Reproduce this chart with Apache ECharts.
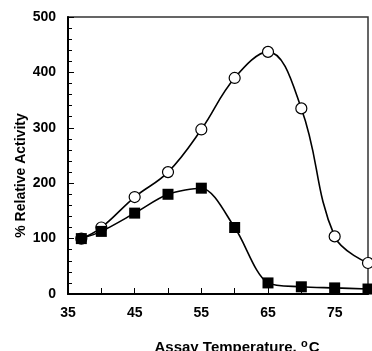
<!DOCTYPE html>
<html>
<head>
<meta charset="utf-8">
<script src="https://cdn.jsdelivr.net/npm/echarts@6/dist/echarts.min.js"></script>
<style>
  html, body { margin: 0; padding: 0; background: #fff; }
  #chart { width: 372px; height: 351px; }
</style>
</head>
<body>
<div id="chart"></div>
<script>
// assay temperature (°C)
const temps = [37, 40, 45, 50, 55, 60, 65, 70, 75, 80]
// open circles
const circleActivity = [100, 120, 175, 220, 297, 390, 437, 335, 104, 56]
// filled squares
const squareActivity = [100, 113, 146, 180, 191, 120, 20, 13, 11, 9]

const xTicks = [35, 45, 55, 65, 75]
const yTicks = [0, 100, 200, 300, 400, 500]

const font = "'Liberation Sans', Arial, sans-serif"

const chart = echarts.init(document.getElementById('chart'), null, { renderer: 'canvas' })

chart.setOption({
  animation: false,
  grid: {
    left: 68,
    right: 4,
    top: 17,
    bottom: 57,
    containLabel: false,
    outerBoundsMode: 'none',
    show: true,
    borderColor: '#333',
    borderWidth: 1.5,
  },
  xAxis: {
    type: 'value',
    min: 35,
    max: 80,
    interval: 10,
    name: '{t|Assay Temperature, }{s|o}{t|C}',
    nameLocation: 'middle',
    nameGap: 44,
    nameMoveOverlap: false,
    nameTextStyle: {
      padding: [0, 0, 0, 38],
      rich: {
        t: { fontFamily: font, fontWeight: 'bold', fontSize: 15, color: '#000', verticalAlign: 'bottom' },
        s: { fontFamily: font, fontWeight: 'bold', fontSize: 11, color: '#000', verticalAlign: 'top', padding: [0, 1, 6, 0] },
      },
    },
    axisLine: { lineStyle: { color: '#000', width: 2 } },
    axisTick: { inside: true, length: 6, lineStyle: { color: '#000' } },
    minorTick: { show: true, splitNumber: 2, length: 6, lineStyle: { color: '#000' } },
    splitLine: { show: false },
    axisLabel: {
      margin: 12,
      color: '#000',
      fontFamily: font,
      fontWeight: 'bold',
      fontSize: 14,
      formatter: (v) => (xTicks.includes(v) ? String(v) : ''),
    },
  },
  yAxis: {
    type: 'value',
    min: 0,
    max: 500,
    interval: 100,
    name: '% Relative Activity',
    nameLocation: 'middle',
    nameRotate: 90,
    nameGap: 40,
    nameMoveOverlap: false,
    nameTextStyle: {
      color: '#000',
      fontFamily: font,
      fontWeight: 'bold',
      fontSize: 14,
      padding: [0, 40, 0, 0],
    },
    axisLine: { show: true, lineStyle: { color: '#000', width: 2 } },
    axisTick: { show: true, inside: true, length: 6, lineStyle: { color: '#000' } },
    minorTick: { show: true, splitNumber: 5, length: 4, lineStyle: { color: '#000' } },
    splitLine: { show: false },
    axisLabel: {
      margin: 12,
      color: '#000',
      fontFamily: font,
      fontWeight: 'bold',
      fontSize: 14,
      formatter: (v) => (yTicks.includes(v) ? String(v) : ''),
    },
  },
  series: [
    {
      name: 'circles',
      type: 'line',
      data: temps.map((t, i) => [t, circleActivity[i]]),
      smooth: 0.4,
      symbol: 'circle',
      symbolSize: 11,
      lineStyle: { color: '#000', width: 1.6 },
      itemStyle: { color: '#fff', borderColor: '#000', borderWidth: 1.2 },
      z: 2,
    },
    {
      name: 'squares',
      type: 'line',
      data: temps.map((t, i) => [t, squareActivity[i]]),
      smooth: 0.3,
      symbol: 'rect',
      symbolSize: 11,
      lineStyle: { color: '#000', width: 1.6 },
      itemStyle: { color: '#000' },
      z: 3,
    },
  ],
})
</script>
</body>
</html>
